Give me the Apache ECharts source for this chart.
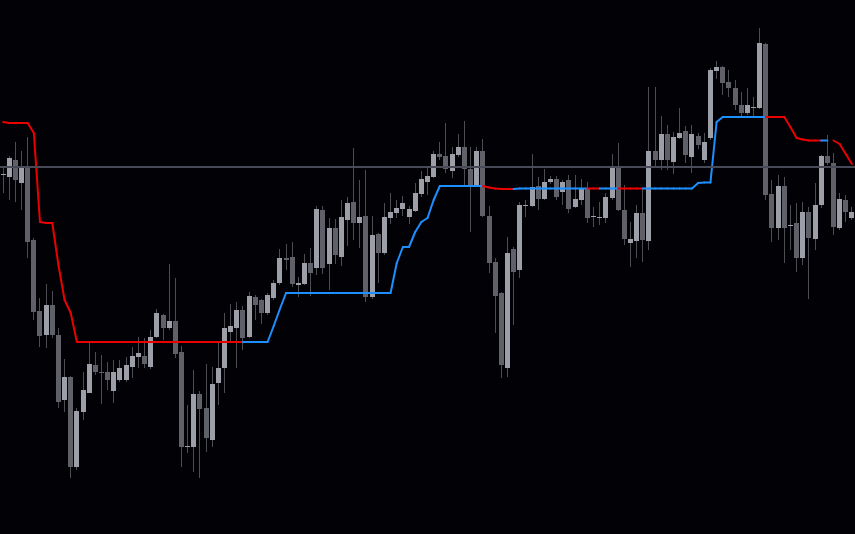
<!DOCTYPE html>
<html>
<head>
<meta charset="utf-8">
<script src="https://cdn.jsdelivr.net/npm/echarts@6/dist/echarts.min.js"></script>
<style>
html,body{margin:0;padding:0;background:#020206;}
#chart{width:855px;height:534px;}
</style>
</head>
<body>
<div id="chart"></div>
<script>
// Price values are expressed in chart units on an inverted scale (smaller = higher price).
const openV = [175,177,160,183,167,240,311,335,305,335,400,377,467,412,393,365,372,372,391,380,
  380,367,357,356,367,337,315,328,321,352,447,447,394,408,440,383,368,332,328,310,
  337,297,300,313,298,283,258,257,285,284,263,268,210,264,228,257,220,202,223,216,
  297,234,253,218,213,209,217,211,194,182,177,154,156,171,155,147,169,186,151,216,
  262,293,368,249,270,206,206,186,199,182,179,192,180,207,200,188,217,218,218,198,
  167,210,243,241,213,241,151,160,134,162,138,131,157,136,160,138,71,67,82,88,
  105,113,108,108,44,194,228,186,226,223,258,212,239,205,156,163,228,200,218];
const closeV = [174,158,180,167,242,312,336,305,335,402,377,467,411,390,364,372,373,380,372,368,
  365,356,353,364,337,313,328,321,354,447,446,394,409,438,384,368,328,326,310,338,
  296,305,313,295,283,258,260,284,283,263,273,209,268,228,255,217,203,223,217,297,
  235,253,217,212,208,203,209,193,179,176,154,157,169,154,147,169,187,151,216,263,
  296,365,253,272,205,205,187,199,182,179,197,182,209,199,188,218,216,217,197,168,
  210,239,239,213,240,151,160,134,160,137,133,155,134,145,142,70,67,83,88,105,
  113,105,107,43,195,228,186,228,225,258,212,238,205,156,163,227,199,212,212];
const highV = [168,156,142,151,137,238,298,284,291,328,359,376,408,372,343,352,355,362,360,360,
  357,347,337,338,330,309,314,264,278,346,405,370,391,364,367,343,313,304,302,306,
  292,295,299,293,280,249,244,242,277,254,248,206,206,218,219,200,197,148,180,170,
  216,233,203,193,200,196,206,183,171,168,151,142,123,147,134,121,147,147,139,206,
  258,292,237,247,202,200,154,177,169,176,176,180,175,175,179,182,207,202,193,154,
  143,185,222,205,188,87,87,116,125,132,108,126,125,133,133,68,61,66,70,80,
  92,88,97,28,43,180,175,177,205,203,202,207,183,155,135,153,193,195,207];
const lowV = [193,200,202,210,258,320,347,348,338,408,412,478,470,420,393,375,404,390,403,382,
  382,378,368,368,369,338,340,330,358,467,453,472,478,452,447,405,393,343,368,350,
  338,320,324,315,300,285,270,287,297,285,296,275,274,290,264,266,246,240,248,302,
  299,283,255,224,218,216,224,212,197,195,178,160,173,178,157,187,232,187,217,273,
  333,378,377,325,278,217,207,210,200,184,200,205,213,208,205,223,227,225,223,200,
  211,245,267,258,262,250,167,170,170,174,139,163,173,149,163,140,79,95,97,110,
  117,115,117,109,200,242,240,263,250,272,265,299,250,208,165,235,230,222,220];

// Trailing stop level per bar, and which side the segment ending at that bar is on.
const trailLevel = [122,123,123,123,123,133,222,223,223,265,300,313,342,342,342,342,342,342,342,342,
  342,342,342,342,342,342,342,342,342,342,342,342,342,342,342,342,342,342,342,342,
  342,342,342,342,326,309,293,293,293,293,293,293,293,293,293,293,293,293,293,293,
  293,293,293,293,263,247,247,232,222,218,200,186,186,186,186,186,186,186,186,187.5,
  188.5,189,189,189,188.5,188.5,188.5,188.5,188.5,188.5,188.5,188.5,188.5,188.5,188.5,188.5,188.5,188.5,188.5,188.5,
  188.5,188.5,188.5,188.5,188.5,188.5,188.5,188.5,188.5,188.5,188.5,188.5,188.5,183,182.5,182.5,122,117,117,117,
  117,117,117,117,117,117,117,117,127,138,139.5,140.5,140.5,140.5,140.5,140.5,144,154,164];
// 'd' = resistance (red), 'u' = support (blue), '' = no segment
const trailSide = ['', 'd','d','d','d','d','d','d','d','d','d','d','d','d','d','d','d','d','d','d',
  'd','d','d','d','d','d','d','d','d','d','d','d','d','d','d','d','d','d','d','d',
  'u','u','u','u','u','u','u','u','u','u','u','u','u','u','u','u','u','u','u','u',
  'u','u','u','u','u','u','u','u','u','u','u','u','u','u','u','u','u','u','u','d',
  'd','d','d','d','u','u','u','u','u','u','u','u','u','u','u','u','d','d','u','u',
  'u','d','d','d','d','u','u','u','u','u','u','u','u','u','u','u','u','u','u','u',
  'u','u','u','u','u','d','d','d','d','d','d','d','d','d','u','','d','d','d'];

const referenceLevel = 167;

const categories = openV.map((_, i) => String(i));

const COLORS = {
  bg: '#020206', bull: '#9c9ea8', bear: '#606168', wick: '#4c4d53',
  up: '#1e8fff', down: '#ea0000', level: '#484b57'
};

const candleData = openV.map((o, i) => [i, o, closeV[i], highV[i], lowV[i]]);
const trailData = trailLevel.map((v, i) => [i, v, i > 0 ? trailLevel[i - 1] : v]);

const chart = echarts.init(document.getElementById('chart'), null, {renderer: 'canvas'});
chart.setOption({
  backgroundColor: COLORS.bg,
  animation: false,
  grid: {left: 0, right: 0, top: 0, bottom: 0},
  xAxis: {type: 'category', data: categories, boundaryGap: true, show: false},
  yAxis: {type: 'value', inverse: true, min: 0, max: 534, show: false},
  series: [
    {
      type: 'line', data: [], silent: true,
      markLine: {
        silent: true, symbol: ['none', 'none'], label: {show: false},
        lineStyle: {color: COLORS.level, width: 2, type: 'solid'},
        data: [{yAxis: referenceLevel}]
      }
    },
    {
      type: 'custom',
      data: candleData,
      encode: {x: 0, y: [1, 2, 3, 4]},
      renderItem: function (params, api) {
        const i = api.value(0);
        const o = api.coord([i, api.value(1)]);
        const c = api.coord([i, api.value(2)]);
        const h = api.coord([i, api.value(3)]);
        const l = api.coord([i, api.value(4)]);
        const cx = Math.floor(o[0]);
        const bull = api.value(2) < api.value(1);
        const top = Math.round(Math.min(o[1], c[1]));
        const bot = Math.round(Math.max(o[1], c[1]));
        return {
          type: 'group',
          children: [
            {type: 'rect', shape: {x: cx, y: Math.round(h[1]), width: 1, height: Math.round(l[1] - h[1])},
             style: {fill: COLORS.wick}},
            {type: 'rect', shape: {x: cx - 2, y: top, width: 5, height: Math.max(1, bot - top)},
             style: {fill: bull ? COLORS.bull : COLORS.bear}}
          ]
        };
      }
    },
    {
      type: 'custom',
      data: trailData,
      encode: {x: 0, y: [1, 2]},
      renderItem: function (params, api) {
        const i = api.value(0);
        const side = trailSide[params.dataIndex];
        if (i === 0 || !side) return null;
        const p1 = api.coord([i - 1, api.value(2)]);
        const p2 = api.coord([i, api.value(1)]);
        return {
          type: 'line',
          shape: {x1: p1[0], y1: p1[1], x2: p2[0], y2: p2[1]},
          style: {stroke: side === 'u' ? COLORS.up : COLORS.down, lineWidth: 2, lineCap: 'round'}
        };
      }
    }
  ]
});
</script>
</body>
</html>
